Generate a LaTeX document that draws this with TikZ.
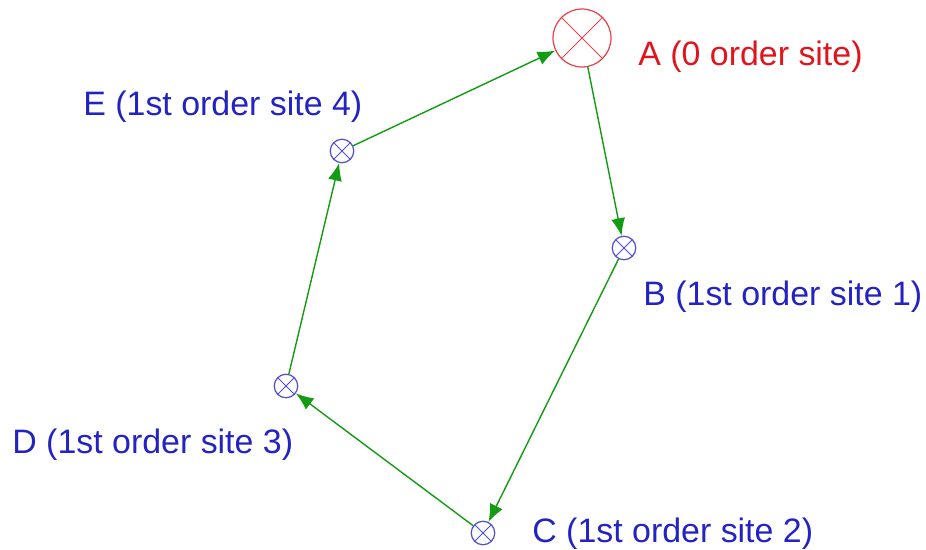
\documentclass[tikz,border=0pt]{standalone}
\usepackage{fontspec}
\setmainfont{Liberation Sans}
\usepackage{xcolor}
\definecolor{sitered}{RGB}{225,20,30}
\definecolor{siteblue}{RGB}{35,35,195}
\definecolor{pathgreen}{RGB}{20,155,20}
\tikzset{
    site/.style={circle,draw=siteblue!80,line width=0.7pt,inner sep=0pt,minimum size=0.47cm,
        path picture={\draw[siteblue!80,line width=0.55pt]
            (path picture bounding box.south west)--(path picture bounding box.north east)
            (path picture bounding box.north west)--(path picture bounding box.south east);}},
    mainsite/.style={site,draw=sitered!80,minimum size=1.16cm,
        path picture={\draw[sitered!80,line width=0.55pt]
            (path picture bounding box.south west)--(path picture bounding box.north east)
            (path picture bounding box.north west)--(path picture bounding box.south east);}},
    sitelabel/.style={anchor=base west,inner sep=0pt,text=siteblue,font=\fontsize{19.3}{23}\selectfont},
    route/.style={pathgreen,line width=0.8pt,-{Latex[length=10pt,width=8pt]}}
}
\usetikzlibrary{arrows.meta}
\begin{document}
\begin{tikzpicture}[x=0.02cm,y=-0.02cm]
    \useasboundingbox (0,0) rectangle (926,549);
    \node [mainsite] (A) at (582,38){};
    \node [site] (B) at (624,248){};
    \node [site] (C) at (483,533){};
    \node [site] (D) at (286,386){};
    \node [site] (E) at (342,151){};
    \node [sitelabel,text=sitered] (LA) at (638,65){A (0 order site)};
    \node [sitelabel] (LB) at (643,305){B (1st order site 1)};
    \node [sitelabel] (LC) at (532,542){C (1st order site 2)};
    \node [sitelabel] (LD) at (12,453){D (1st order site 3)};
    \node [sitelabel] (LE) at (83,115){E (1st order site 4)};
    \draw[route] (E)--(A);
    \draw[route] (A)--(B);
    \draw[route] (B)--(C);
    \draw[route] (C)--(D);
    \draw[route] (D)--(E);
\end{tikzpicture}
\end{document}
